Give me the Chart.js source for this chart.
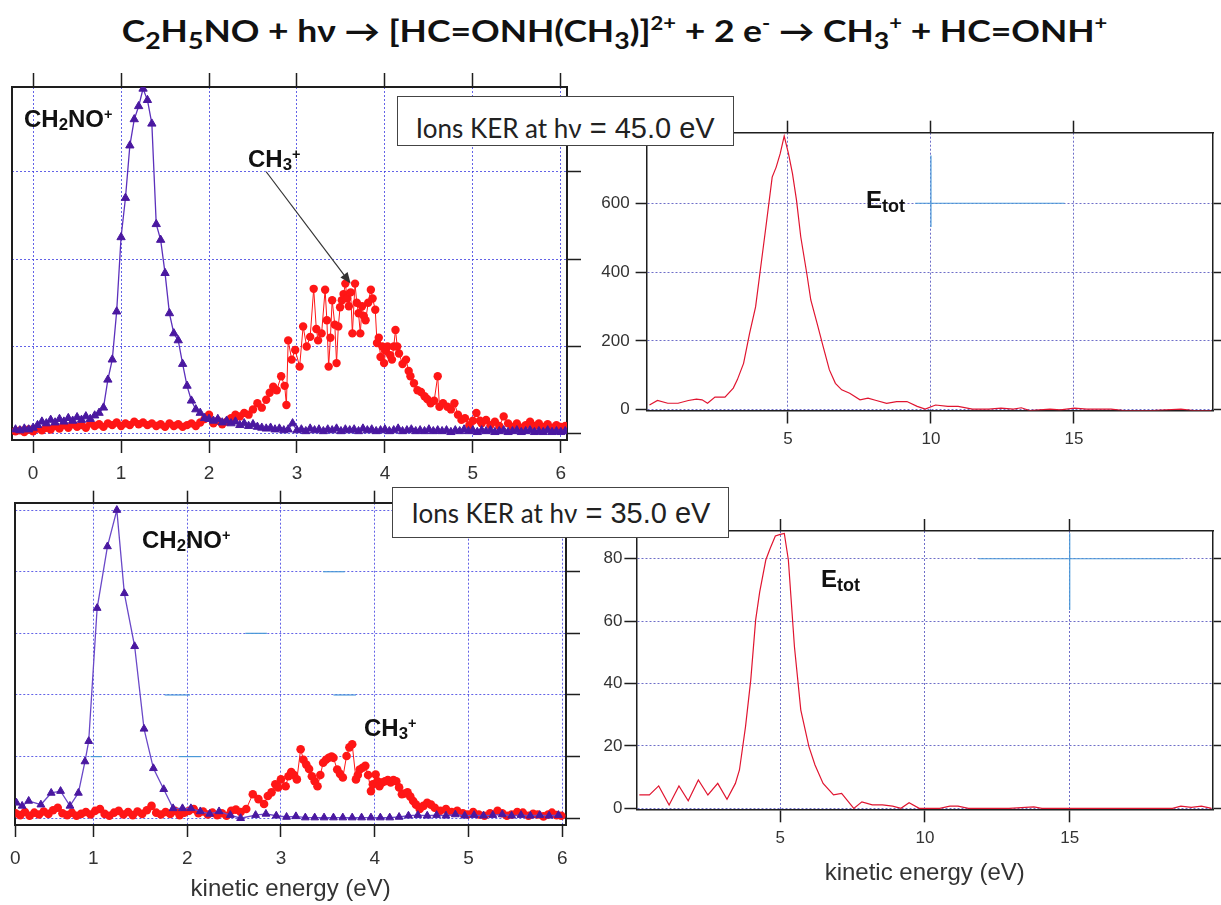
<!DOCTYPE html>
<html><head><meta charset="utf-8">
<script src="https://cdn.jsdelivr.net/npm/chart.js@4.4.1/dist/chart.umd.min.js"></script>
<style>
html,body{margin:0;padding:0;background:#fff;}
body{width:1221px;height:905px;position:relative;overflow:hidden;}
.cv{position:absolute;}
.t{position:absolute;white-space:nowrap;line-height:1;z-index:6;}
.lbl{font-family:'Liberation Sans',Arial,sans-serif;font-weight:bold;font-size:24px;color:#111;}
.sb{font-size:0.7em;position:relative;top:0.18em;}
.sp{font-size:0.6em;position:relative;top:-0.55em;}
.sb2{font-size:0.75em;position:relative;top:0.22em;}
.box{position:absolute;box-sizing:border-box;border:1.5px solid #444;background:#fff;z-index:5;}
#title{font-family:Lato,'Open Sans',sans-serif;font-weight:700;color:#111;font-size:30px;}
#title .sb{font-size:0.75em;top:0.3em;}
#title .sp{font-size:0.62em;top:-0.62em;}
.bt1{font-family:Lato,'Open Sans',sans-serif;font-size:26px;color:#222;}
.bt2{font-family:'Liberation Sans',Arial,sans-serif;font-size:29px;color:#222;}
</style></head>
<body>
<canvas id="cTL" class="cv" width="600" height="440" style="left:0;top:60px"></canvas>
<canvas id="cTR" class="cv" width="631" height="360" style="left:590px;top:100px"></canvas>
<canvas id="cBL" class="cv" width="600" height="425" style="left:0;top:480px"></canvas>
<canvas id="cBR" class="cv" width="631" height="425" style="left:590px;top:480px"></canvas>

<div id="title" class="t">C<span class="sb">2</span>H<span class="sb">5</span>NO + hν → [HC=ONH(CH<span class="sb">3</span>)]<span class="sp">2+</span> + 2 e<span class="sp">-</span> → CH<span class="sb">3</span><span class="sp">+</span> + HC=ONH<span class="sp">+</span></div>

<div id="lTL1" class="t lbl">CH<span class="sb">2</span>NO<span class="sp">+</span></div>
<div id="lTL2" class="t lbl">CH<span class="sb">3</span><span class="sp">+</span></div>
<div id="lBL1" class="t lbl">CH<span class="sb">2</span>NO<span class="sp">+</span></div>
<div id="lBL2" class="t lbl">CH<span class="sb">3</span><span class="sp">+</span></div>
<div id="eTR" class="t lbl">E<span class="sb2">tot</span></div>
<div id="eBR" class="t lbl">E<span class="sb2">tot</span></div>

<div class="box" style="left:396.7px;top:95.7px;width:337.3px;height:50.3px"></div>
<div id="b1" class="t"><span class="bt1">Ions KER at hν</span><span class="bt2"> = 45.0 eV</span></div>
<div class="box" style="left:391.7px;top:487.3px;width:337.6px;height:50.7px"></div>
<div id="b2" class="t"><span class="bt1">Ions KER at hν</span><span class="bt2"> = 35.0 eV</span></div>

<script>
// ---------- DATA ----------
// Top-left (hν = 45 eV) ion KER, arbitrary units
const tlPurpleX = [-0.20,-0.15,-0.10,-0.05,0.00,0.05,0.10,0.15,0.20,0.25,
  0.30,0.35,0.40,0.45,0.50,0.55,0.60,0.65,0.70,0.75,
  0.80,0.85,0.90,0.95,1.00,1.05,1.10,1.15,1.20,1.25,
  1.30,1.35,1.40,1.45,1.50,1.55,1.60,1.65,1.70,1.75,
  1.80,1.85,1.90,1.95,2.00,2.05,2.10,2.15,2.20,2.25,
  2.30,2.35,2.40,2.45,2.50,2.55,2.60,2.65,2.70,2.75,
  2.80,2.85,2.90,2.95,3.00,3.05,3.10,3.15,3.20,3.25,
  3.30,3.35,3.40,3.45,3.50,3.55,3.60,3.65,3.70,3.75,
  3.80,3.85,3.90,3.95,4.00,4.05,4.10,4.15,4.20,4.25,
  4.30,4.35,4.40,4.45,4.50,4.55,4.60,4.65,4.70,4.75,
  4.80,4.85,4.90,4.95,5.00,5.05,5.10,5.15,5.20,5.25,
  5.30,5.35,5.40,5.45,5.50,5.55,5.60,5.65,5.70,5.75,
  5.80,5.85,5.90,5.95,6.00,6.05];
const tlPurpleY = [0.05,0.04,0.06,0.05,0.07,0.10,0.14,0.12,0.16,0.13,
  0.17,0.14,0.18,0.15,0.19,0.16,0.20,0.17,0.21,0.24,
  0.30,0.62,0.85,1.40,2.25,2.70,3.30,3.60,3.75,3.95,
  3.82,3.55,2.40,2.22,1.84,1.38,1.15,1.07,0.80,0.55,
  0.38,0.28,0.24,0.18,0.17,0.15,0.17,0.13,0.15,0.12,
  0.14,0.10,0.12,0.09,0.11,0.08,0.07,0.06,0.07,0.05,
  0.06,0.04,0.05,0.12,0.04,0.05,0.03,0.06,0.04,0.05,
  0.03,0.05,0.04,0.06,0.03,0.05,0.04,0.05,0.03,0.06,
  0.04,0.05,0.03,0.04,0.05,0.03,0.04,0.06,0.03,0.04,
  0.05,0.03,0.04,0.03,0.05,0.03,0.04,0.03,0.04,0.02,
  0.04,0.03,0.05,0.03,0.04,0.02,0.04,0.03,0.04,0.02,
  0.03,0.04,0.02,0.03,0.04,0.02,0.03,0.04,0.02,0.03,
  0.02,0.04,0.02,0.03,0.02,0.03];
const tlRedX = [-0.20,-0.15,-0.10,-0.05,0.00,0.05,0.10,0.15,0.20,0.25,
  0.30,0.35,0.40,0.45,0.50,0.55,0.60,0.65,0.70,0.75,
  0.80,0.85,0.90,0.95,1.00,1.05,1.10,1.15,1.20,1.25,
  1.30,1.35,1.40,1.45,1.50,1.55,1.60,1.65,1.70,1.75,
  1.80,1.85,1.90,1.95,2.00,2.05,2.10,2.15,2.20,2.25,
  2.30,2.35,2.40,2.45,2.50,2.55,2.60,2.65,2.69,2.73,
  2.77,2.82,2.86,2.88,2.90,2.94,2.98,3.03,3.07,3.11,
  3.15,3.19,3.22,3.24,3.28,3.32,3.34,3.36,3.38,3.40,
  3.43,3.45,3.47,3.49,3.51,3.53,3.55,3.57,3.59,3.61,
  3.63,3.66,3.68,3.70,3.72,3.74,3.76,3.78,3.81,3.84,
  3.86,3.89,3.91,3.93,3.95,3.97,3.99,4.01,4.03,4.06,
  4.08,4.10,4.12,4.14,4.16,4.20,4.24,4.27,4.29,4.33,
  4.37,4.41,4.45,4.48,4.52,4.56,4.60,4.62,4.66,4.71,
  4.75,4.79,4.83,4.87,4.91,4.96,5.00,5.04,5.08,
  5.10,5.15,5.20,5.25,5.30,5.35,5.40,5.45,5.50,5.55,
  5.60,5.65,5.70,5.75,5.80,5.85,5.90,5.95,6.00,6.05];
const tlRedY = [0.03,0.04,0.02,0.05,0.03,0.06,0.04,0.07,0.05,0.09,
  0.06,0.10,0.07,0.11,0.08,0.10,0.07,0.12,0.09,0.11,
  0.08,0.12,0.10,0.13,0.09,0.12,0.10,0.14,0.11,0.13,
  0.10,0.12,0.09,0.11,0.08,0.12,0.09,0.11,0.08,0.10,
  0.12,0.09,0.13,0.17,0.22,0.12,0.15,0.11,0.14,0.18,
  0.22,0.20,0.24,0.22,0.28,0.35,0.30,0.39,0.47,0.54,
  0.50,0.66,0.55,0.33,1.07,0.85,0.96,0.77,1.23,1.00,
  1.11,1.66,1.20,1.07,1.15,1.65,1.30,0.77,1.10,1.53,
  1.25,0.81,1.23,1.45,1.53,1.60,1.72,1.55,1.46,1.62,
  1.15,1.72,1.50,1.38,1.15,1.46,1.35,1.30,1.50,1.65,
  1.55,1.42,1.04,1.10,0.88,1.00,0.81,0.95,1.00,0.90,
  0.85,1.00,1.19,1.00,0.92,0.80,0.85,0.72,0.66,0.58,
  0.50,0.48,0.43,0.40,0.35,0.38,0.66,0.31,0.35,0.31,
  0.28,0.35,0.22,0.16,0.18,0.10,0.15,0.24,0.15,
  0.12,0.16,0.10,0.14,0.09,0.20,0.12,0.08,0.12,0.07,
  0.10,0.14,0.09,0.12,0.08,0.11,0.07,0.10,0.08,0.09];

// Top-right (hν = 45 eV) total KER E_tot
const trX = [0.16,0.44,0.80,1.16,1.52,1.80,2.00,2.19,2.45,2.80,
  3.09,3.23,3.45,3.66,3.87,4.02,4.23,4.45,4.59,4.73,
  4.87,5.02,5.16,5.30,5.45,5.66,5.80,6.02,6.23,6.45,
  6.66,6.88,7.16,7.52,7.80,8.09,8.45,8.80,9.16,9.52,
  9.80,10.16,10.59,10.95,11.45,12.02,12.45,12.88,13.16,13.45,
  14.16,14.52,15.02,15.45,16.30,16.74,17.74,18.74,19.17,19.80];
const trY = [14,27,19,19,27,31,29,19,37,37,
  63,87,135,222,299,396,531,676,705,744,
  795,744,686,609,502,396,319,251,184,116,
  77,58,48,29,34,27,19,24,24,10,
  2,14,10,10,2,2,5,2,6,-2,
  2,0,5,2,2,-2,-2,2,-2,-2];
const trYTicks = [0,200,400,600];

// Bottom-left (hν = 35 eV) ion KER
const blPurpleX = [0.18,0.24,0.31,0.44,0.55,0.65,0.75,0.84,0.91,0.95,
  1.04,1.15,1.25,1.33,1.44,1.54,1.64,1.75,1.85,1.95,
  2.04,2.14,2.24,2.34,2.46,2.57,2.73,2.84,2.95,3.06,
  3.16,3.26,3.36,3.46,3.56,3.66,3.76,3.86,3.96,4.06,
  4.16,4.26,4.36,4.46,4.56,4.66,4.76,4.86,4.96,5.06,
  5.16,5.26,5.36,5.46,5.56,5.66,5.76,5.86,5.96];
const blPurpleY = [0.25,0.20,0.28,0.22,0.41,0.44,0.20,0.41,0.92,1.25,
  3.41,4.41,5.00,3.65,2.79,1.45,0.81,0.47,0.16,0.16,
  0.16,0.11,0.07,0.11,0.05,0.00,0.05,0.07,0.04,0.02,
  0.03,0.01,0.01,0.01,0.01,0.01,0.01,0.01,0.01,0.01,
  0.01,0.02,0.04,0.05,0.04,0.05,0.04,0.06,0.04,0.05,
  0.04,0.05,0.06,0.04,0.05,0.04,0.05,0.04,0.05];
const blRedX = [0.17,0.22,0.27,0.32,0.37,0.42,0.47,0.52,0.57,0.62,
  0.67,0.72,0.77,0.82,0.87,0.92,0.97,1.02,1.07,1.12,
  1.17,1.22,1.27,1.32,1.37,1.42,1.47,1.52,1.57,1.62,
  1.67,1.72,1.77,1.82,1.87,1.92,1.97,2.02,2.07,2.12,
  2.17,2.22,2.27,2.32,2.37,2.42,2.47,2.52,2.57,2.63,
  2.70,2.76,2.82,2.86,2.90,2.94,2.97,3.00,3.05,3.08,
  3.11,3.14,3.17,3.21,3.24,3.27,3.30,3.33,3.36,3.39,
  3.42,3.45,3.48,3.51,3.54,3.56,3.60,3.63,3.66,3.70,
  3.73,3.76,3.80,3.82,3.84,3.87,3.90,3.93,3.96,3.98,
  4.01,4.03,4.05,4.08,4.11,4.14,4.17,4.20,4.23,4.26,
  4.29,4.32,4.35,4.38,4.41,4.44,4.48,4.52,4.56,4.60,
  4.64,4.70,4.76,4.82,4.88,4.94,4.99,5.05,5.11,5.17,
  5.23,5.31,5.36,5.41,5.46,5.52,5.58,5.64,5.69,5.74,
  5.80,5.85,5.89,5.94,5.99];
const blRedY = [0.08,0.05,0.10,0.04,0.09,0.06,0.11,0.07,0.13,0.17,
  0.08,0.05,0.09,0.04,0.07,0.10,0.06,0.12,0.15,0.07,
  0.04,0.09,0.12,0.06,0.10,0.05,0.11,0.07,0.13,0.20,
  0.09,0.06,0.10,0.07,0.12,0.05,0.09,0.12,0.15,0.08,
  0.11,0.06,0.09,0.05,0.08,0.04,0.12,0.14,0.10,0.15,
  0.39,0.31,0.23,0.36,0.42,0.55,0.50,0.63,0.52,0.68,
  0.75,0.70,0.63,1.12,0.95,0.87,0.80,0.68,0.60,0.52,
  0.70,0.90,0.95,0.98,1.00,0.98,0.79,0.72,0.66,1.01,
  1.15,1.20,0.63,0.70,0.79,0.82,0.85,0.70,0.44,0.55,
  0.71,0.60,0.52,0.58,0.60,0.62,0.58,0.62,0.60,0.50,
  0.39,0.40,0.42,0.35,0.28,0.22,0.15,0.20,0.25,0.22,
  0.17,0.12,0.15,0.10,0.12,0.08,0.06,0.10,0.06,0.04,
  0.08,0.12,0.08,0.04,0.06,0.10,0.09,0.04,0.07,0.06,
  0.03,0.06,0.09,0.05,0.04];
const blXTicks = [1,2,3,4,5,6];

// Bottom-right (hν = 35 eV) total KER E_tot
const brX = [0.13,0.48,0.80,1.16,1.50,1.82,2.17,2.50,2.84,3.16,
  3.45,3.59,3.80,3.98,4.15,4.29,4.50,4.65,4.83,5.00,
  5.14,5.28,5.49,5.71,5.99,6.20,6.48,6.84,7.12,7.54,
  7.82,8.18,8.53,8.88,9.17,9.45,9.80,10.22,10.51,10.86,
  11.14,11.50,12.20,12.90,13.76,14.04,15.03,16.44,17.85,18.55,
  18.84,19.20,19.55,19.90];
const brY = [4.3,4.3,7.2,1.1,7.2,2.4,9.1,4.3,8.0,2.9,
  8.0,12.3,26.2,41.1,60.4,69.4,79.6,83.3,87.3,87.8,
  88.1,79.6,51.8,31.5,19.8,13.9,8.0,4.3,4.8,0,
  2.1,1.1,1.1,0.7,0,1.8,0,0,0,0.7,
  0.7,0,0,0,0.5,0,0,0,0,0,
  0.7,0.3,0.7,0];
const brYTicks = [0,20,40,60,80];

// Annotation lines in data coordinates
const tlArrow = [2.65, 3.00, 3.61, 1.72];
const trCursor = [[9.45,600,14.67,600],[10,531,10,739]];
const brCursor = [[11.85,80,18.84,80],[15,63.6,15,88.2]];
const blCursorBits = [[2.62,3,2.85,3],[1.76,2,2.03,2],[3.56,2,3.80,2],[1.91,1,2.15,1],[0.97,1,1.09,1],[3.45,4,3.68,4]];

// ---------- STYLE ----------
const TICKFONT = "'Liberation Sans Narrow','Arial Narrow','Liberation Sans',Arial,sans-serif";
const AXCOL = '#1e1e1e';
const GRID_L = 'rgba(60,60,225,0.8)';
const GRID_R = 'rgba(85,85,190,0.85)';
const PURPLE = '#4a18a0', PURPLE_LINE = '#5c30bc';
const RED = '#ff1616';
const RED_R = '#e01530';
const CURSOR = '#4a98d8';

function pairs(xs, ys){ return xs.map((x,i)=>({x:x, y:ys[i]})); }

function axis(o){
  const isX = (o.pos==='top'||o.pos==='bottom');
  const ticks = {display:!!o.labels, stepSize:o.step, includeBounds:false, autoSkip:false,
    maxRotation:0, minRotation:0, color:'#333', font:{family:TICKFONT, size:o.fs||18}, padding:(o.pad!=null?o.pad:3)};
  if (o.cb) ticks.callback = o.cb;
  const a = {
    type:'linear', position:o.pos, min:o.min, max:o.max, ticks:ticks,
    grid:{display:true, drawOnChartArea:!!o.gridOn, drawTicks:(o.tickLen>0), tickLength:o.tickLen||0,
      color:o.gridColor||'rgba(0,0,0,0)', lineWidth:1, tickColor:AXCOL, tickWidth:o.tickW||1.5},
    border:{display:true, color:AXCOL, width:o.borderW||1.5, dash:o.dash||[]},
    title:{display:false},
    afterFit: function(s){ if (isX) s.height = o.size; else s.width = o.size; }
  };
  if (o.title) a.title = {display:true, text:o.title, color:'#333',
      font:{family:"'Liberation Sans',Arial,sans-serif", size:24}, padding:{top:0, bottom:o.titlePad}};
  if (o.ticksList) a.afterBuildTicks = function(s){ s.ticks = o.ticksList(s).map(v=>({value:v})); };
  return a;
}

function overlay(lines, color, width, arrow){
  return {id:'ov'+Math.random().toString(36).slice(2), afterDatasetsDraw(chart){
    const ctx = chart.ctx, xs = chart.scales.x, ys = chart.scales.y;
    ctx.save(); ctx.strokeStyle = color; ctx.fillStyle = color; ctx.lineWidth = width;
    lines.forEach(l=>{
      const x1 = xs.getPixelForValue(l[0]), y1 = ys.getPixelForValue(l[1]);
      const x2 = xs.getPixelForValue(l[2]), y2 = ys.getPixelForValue(l[3]);
      ctx.beginPath(); ctx.moveTo(x1,y1);
      if (arrow){
        const ang = Math.atan2(y2-y1, x2-x1), L = 11, W = 4.5;
        const bx = x2 - L*Math.cos(ang), by = y2 - L*Math.sin(ang);
        ctx.lineTo(bx,by); ctx.stroke();
        ctx.beginPath(); ctx.moveTo(x2,y2);
        ctx.lineTo(bx + W*Math.sin(ang), by - W*Math.cos(ang));
        ctx.lineTo(bx - W*Math.sin(ang), by + W*Math.cos(ang));
        ctx.closePath(); ctx.fill();
      } else { ctx.lineTo(x2,y2); ctx.stroke(); }
    });
    ctx.restore();
  }};
}

const baseOpts = {responsive:false, animation:false, events:[], layout:{padding:0},
  plugins:{legend:{display:false}, tooltip:{enabled:false}}};

function mk(id, datasets, scales, plugins){
  return new Chart(document.getElementById(id), {
    type:'line', data:{datasets:datasets},
    options:Object.assign({}, baseOpts, {scales:scales}), plugins:plugins||[]
  });
}

function build(){
  // Top-left
  mk('cTL', [
    {data:pairs(tlPurpleX, tlPurpleY), borderColor:PURPLE_LINE, borderWidth:1.3, pointStyle:'triangle', pointRadius:4.8,
     pointBackgroundColor:PURPLE, pointBorderColor:PURPLE, pointBorderWidth:1, tension:0},
    {data:pairs(tlRedX, tlRedY), borderColor:RED, borderWidth:1, pointStyle:'circle', pointRadius:4.2,
     pointBackgroundColor:RED, pointBorderColor:RED, pointBorderWidth:0, tension:0}
  ], {
    x: axis({pos:'bottom', min:-0.24, max:6.07, step:1, size:60, tickLen:13, labels:true, gridOn:true, gridColor:GRID_L, dash:[2,2], fs:19, pad:9, borderW:2}),
    x2: axis({pos:'top', min:-0.24, max:6.07, step:1, size:27, tickLen:14, borderW:2}),
    y: axis({pos:'left', min:-0.07, max:3.97, step:1, size:12, tickLen:0, borderW:2}),
    y2: axis({pos:'right', min:-0.07, max:3.97, step:1, size:33, tickLen:14, gridOn:true, gridColor:GRID_L, dash:[2,2], borderW:2})
  }, [overlay([tlArrow], '#333', 1.2, true)]);

  // Top-right
  mk('cTR', [
    {data:pairs(trX, trY), borderColor:RED_R, borderWidth:1.2, pointRadius:0, tension:0}
  ], {
    x: axis({pos:'bottom', min:0.06, max:19.86, step:5, size:49.5, tickLen:13, labels:true, gridOn:true, gridColor:GRID_R, dash:[2,2], fs:17, pad:6}),
    x2: axis({pos:'top', min:0.06, max:19.86, step:5, size:32.7, tickLen:12}),
    y: axis({pos:'left', min:-2, max:805, step:200, size:56.6, tickLen:11, labels:true, gridOn:true, gridColor:GRID_R, dash:[2,2], fs:17, pad:6, ticksList:()=>trYTicks}),
    y2: axis({pos:'right', min:-2, max:805, step:200, size:8, tickLen:8, ticksList:()=>trYTicks})
  }, [overlay(trCursor, CURSOR, 1.2, false)]);

  // Bottom-left
  mk('cBL', [
    {data:pairs(blPurpleX, blPurpleY), borderColor:'#6a48c8', borderWidth:1.3, pointStyle:'triangle', pointRadius:4.5,
     pointBackgroundColor:PURPLE, pointBorderColor:PURPLE, pointBorderWidth:1, tension:0},
    {data:pairs(blRedX, blRedY), borderColor:RED, borderWidth:1, pointStyle:'circle', pointRadius:4.3,
     pointBackgroundColor:RED, pointBorderColor:RED, pointBorderWidth:0, tension:0}
  ], {
    x: axis({pos:'bottom', min:0.167, max:6.04, step:1, size:80, tickLen:12, labels:true, gridOn:true, gridColor:GRID_L, dash:[2,2], fs:19, pad:10, borderW:2,
      ticksList:(s)=>[s.min].concat(blXTicks), cb:(v)=> (v<0.5 ? '0' : String(v)), title:'kinetic energy (eV)', titlePad:1}),
    x2: axis({pos:'top', min:0.167, max:6.04, step:1, size:22.7, tickLen:12, borderW:2, ticksList:()=>blXTicks.slice(0,5)}),
    y: axis({pos:'left', min:-0.11, max:5.12, step:1, size:13.7, tickLen:0, borderW:2}),
    y2: axis({pos:'right', min:-0.11, max:5.12, step:1, size:34, tickLen:14, gridOn:true, gridColor:GRID_L, dash:[2,2], borderW:2})
  }, [overlay(blCursorBits, CURSOR, 1.2, false)]);

  // Bottom-right
  mk('cBR', [
    {data:pairs(brX, brY), borderColor:RED_R, borderWidth:1.2, pointRadius:0, tension:0}
  ], {
    x: axis({pos:'bottom', min:0.03, max:19.95, step:5, size:95.7, tickLen:13, labels:true, gridOn:true, gridColor:GRID_R, dash:[2,2], fs:17, pad:6,
      title:'kinetic energy (eV)', titlePad:17.3}),
    x2: axis({pos:'top', min:0.03, max:19.95, step:5, size:51, tickLen:12}),
    y: axis({pos:'left', min:-0.3, max:88.9, step:20, size:46.4, tickLen:12, labels:true, gridOn:true, gridColor:GRID_R, dash:[2,2], fs:17, pad:2, ticksList:()=>brYTicks}),
    y2: axis({pos:'right', min:-0.3, max:88.9, step:20, size:8, tickLen:8, ticksList:()=>brYTicks})
  }, [overlay(brCursor, CURSOR, 1.2, false)]);
}

function place(id, x, baseline, opt){
  opt = opt || {};
  const el = document.getElementById(id);
  el.style.left = '0px'; el.style.top = '0px'; el.style.transform = 'none';
  const m = document.createElement('span');
  m.style.cssText = 'display:inline-block;width:1px;height:0;vertical-align:baseline;';
  el.appendChild(m);
  const r0 = el.getBoundingClientRect();
  const b = m.getBoundingClientRect().top - r0.top;
  el.removeChild(m);
  const w = el.getBoundingClientRect().width;
  const left = opt.center ? x - w/2 : x;
  el.style.left = left + 'px';
  el.style.top = (baseline - b) + 'px';
  if (opt.sy){ el.style.transformOrigin = '0px ' + b + 'px'; el.style.transform = 'scaleY(' + opt.sy + ')'; }
}

function layoutText(){
  const T = document.getElementById('title');
  T.style.fontSize = '30px';
  const w0 = T.getBoundingClientRect().width;
  const fs = 30 * 986 / w0;
  T.style.fontSize = fs + 'px';
  place('title', 121.7, 41.7, {sy: 21.7 / (0.7165 * fs)});
  place('lTL1', 24, 126.7);
  place('lTL2', 248, 167.3);
  place('lBL1', 142, 548.3);
  place('lBL2', 364, 736);
  place('eTR', 866, 208.3);
  place('eBR', 821, 587.3);
  place('b1', 565.3, 138, {center:true});
  place('b2', 561, 523, {center:true});
}

window.addEventListener('load', function(){
  build();
  (document.fonts ? document.fonts.ready : Promise.resolve()).then(layoutText);
});
</script>
</body></html>
